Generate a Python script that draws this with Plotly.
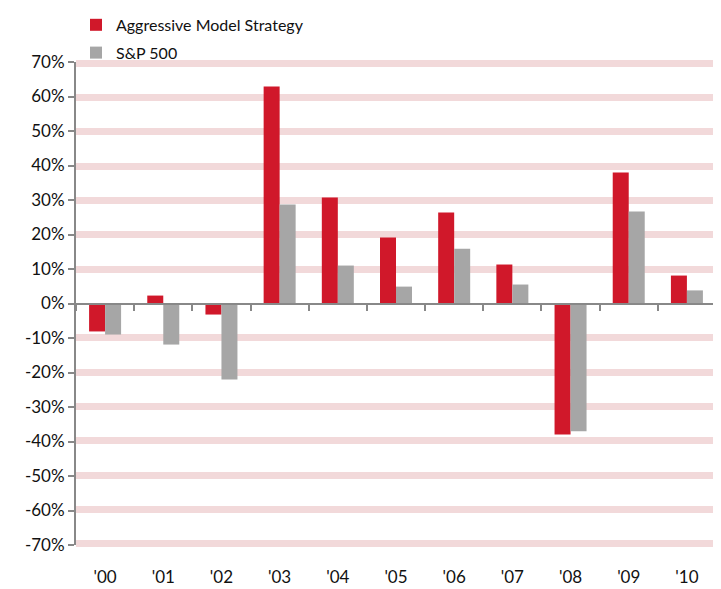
import plotly.graph_objects as go

years = ["'00", "'01", "'02", "'03", "'04", "'05", "'06", "'07", "'08", "'09", "'10"]
aggressive = [-8.1, 2.3, -3.2, 62.9, 30.7, 19.1, 26.4, 11.3, -38.0, 38.0, 8.1]
sp500 = [-9.0, -11.9, -22.0, 28.7, 11.0, 4.9, 15.9, 5.5, -37.0, 26.7, 3.8]
y_ticks = list(range(-70, 80, 10))
y_labels = [f"{v}%" for v in y_ticks]
grid_vals = [v for v in y_ticks if v != 0]

RED = "#d0182a"
GRAY = "#a6a6a6"
PINK = "#f2d9da"
AXIS = "#888888"
FONT = "Lato, 'Open Sans', sans-serif"

fig = go.Figure()
# invisible helper traces so that the grid axis and the zero-line axis are drawn
fig.add_trace(go.Scatter(x=years, y=[None] * len(years), xaxis="x", yaxis="y",
                         showlegend=False, hoverinfo="skip", mode="markers"))
fig.add_trace(go.Bar(x=years, y=aggressive, name="Aggressive Model Strategy",
                     marker=dict(color=RED, line=dict(width=0)),
                     xaxis="x", yaxis="y2", legendgroup="a"))
fig.add_trace(go.Bar(x=years, y=sp500, name="S&P 500",
                     marker=dict(color=GRAY, line=dict(width=0)),
                     xaxis="x", yaxis="y2", legendgroup="b"))
fig.add_trace(go.Scatter(x=years, y=[None] * len(years), xaxis="x2", yaxis="y2",
                         showlegend=False, hoverinfo="skip", mode="markers"))

fig.update_layout(
    width=713, height=581,
    margin=dict(l=68, r=5, t=54, b=44, autoexpand=False),
    paper_bgcolor="white", plot_bgcolor="white",
    font=dict(family=FONT, size=17, color="#111111"),
    barmode="group", bargap=0.45, bargroupgap=0,
    showlegend=True,
    legend=dict(x=0.0, xanchor="left", y=1.112, yanchor="top",
                orientation="v", tracegroupgap=4,
                font=dict(size=16, color="#111111"),
                bgcolor="rgba(0,0,0,0)"),
    xaxis=dict(type="category", categoryorder="array", categoryarray=years,
               range=[-0.5, 10.5], showline=False, ticks="", showgrid=False,
               zeroline=False, ticklabelstandoff=20, automargin=False,
               tickfont=dict(size=17)),
    xaxis2=dict(type="category", categoryorder="array", categoryarray=years,
                overlaying="x", anchor="free", position=0.5,
                range=[-0.5, 10.5], showline=True, linecolor=AXIS, linewidth=2,
                ticks="outside", tickson="boundaries", ticklen=6, tickwidth=1.5,
                tickcolor=AXIS, showticklabels=False, showgrid=False,
                zeroline=False, automargin=False),
    yaxis=dict(range=[-70.4, 70.4], tickvals=grid_vals, showticklabels=False,
               showgrid=True, gridcolor=PINK, gridwidth=7, zeroline=False,
               showline=False, ticks="", automargin=False),
    yaxis2=dict(range=[-70, 70], overlaying="y", side="left",
                tickvals=y_ticks, ticktext=y_labels, showgrid=False,
                zeroline=False, showline=True, linecolor=AXIS, linewidth=2,
                ticks="outside", ticklen=6, tickwidth=1.5, tickcolor=AXIS,
                tickfont=dict(size=17), automargin=False),
)

fig.write_html("out.html")
